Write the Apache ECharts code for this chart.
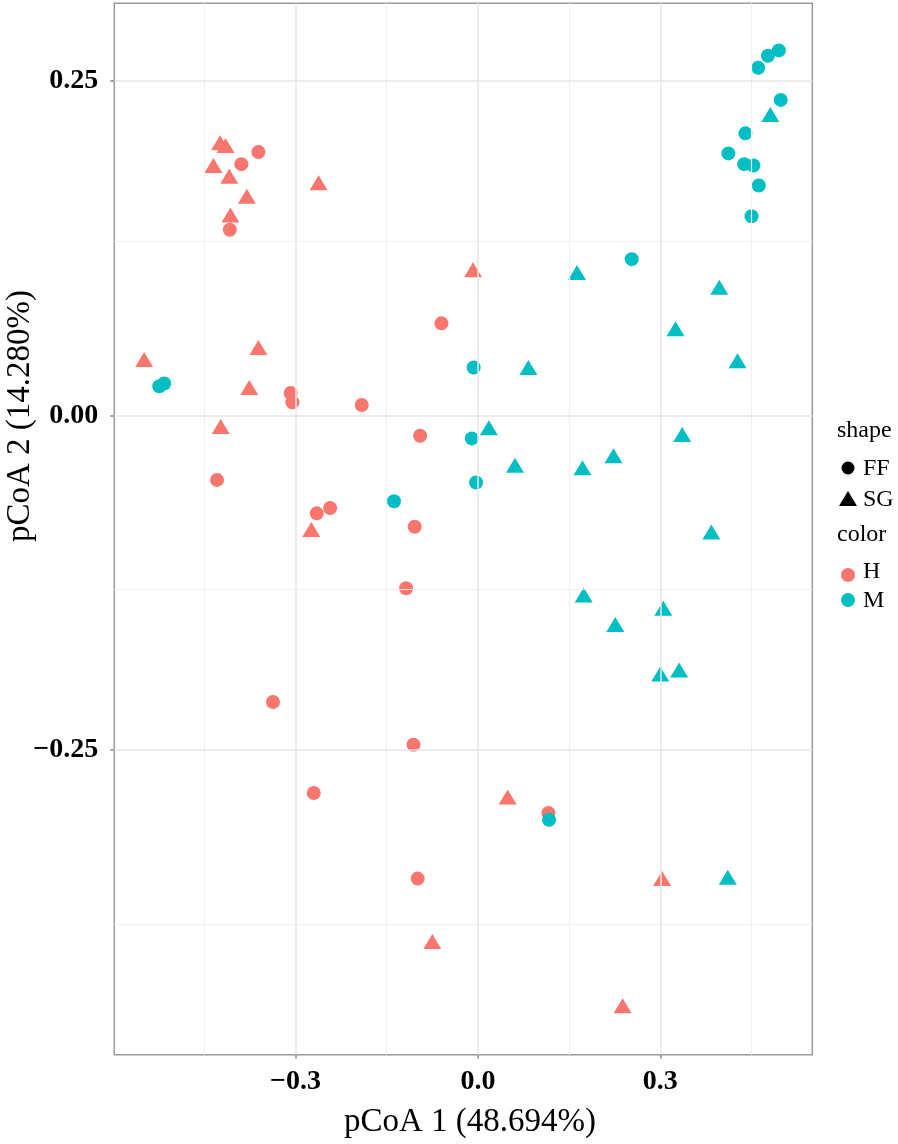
<!DOCTYPE html>
<html>
<head>
<meta charset="utf-8">
<script src="https://cdn.jsdelivr.net/npm/echarts@6/dist/echarts.min.js"></script>
<style>
html,body{margin:0;padding:0;background:#fff;}
#chart{width:898px;height:1144px;}
</style>
</head>
<body>
<div id="chart"></div>
<script>
// ---- data (pCoA 1, pCoA 2) ----
const H_FF = [
  [-0.361, 0.197], [-0.389, 0.188], [-0.408, 0.139], [-0.060, 0.069],
  [-0.308, 0.017], [-0.305, 0.010], [-0.191, 0.008], [-0.095, -0.015],
  [-0.429, -0.048], [-0.265, -0.073], [-0.243, -0.069], [-0.104, -0.083],
  [-0.118, -0.129], [-0.337, -0.214], [-0.106, -0.246], [-0.270, -0.282],
  [-0.099, -0.346], [0.116, -0.297]
];
const H_SG = [
  [-0.424, 0.204], [-0.415, 0.202], [-0.435, 0.187], [-0.409, 0.179],
  [-0.380, 0.164], [-0.407, 0.150], [-0.262, 0.174], [-0.549, 0.042],
  [-0.361, 0.051], [-0.376, 0.021], [-0.008, 0.109], [-0.423, -0.008],
  [-0.274, -0.085], [-0.075, -0.393], [0.049, -0.285], [0.303, -0.346],
  [0.238, -0.441]
];
const M_FF = [
  [-0.524, 0.022], [-0.516, 0.024], [0.461, 0.260], [0.477, 0.269],
  [0.495, 0.273], [0.498, 0.236], [0.440, 0.211], [0.412, 0.196],
  [0.438, 0.188], [0.453, 0.187], [0.462, 0.172], [0.450, 0.149],
  [0.253, 0.117], [-0.007, 0.036], [-0.010, -0.017], [-0.003, -0.050],
  [-0.138, -0.064], [0.117, -0.302]
];
const M_SG = [
  [0.481, 0.225], [0.163, 0.107], [0.397, 0.096], [0.325, 0.065],
  [0.427, 0.041], [0.083, 0.036], [0.018, -0.009], [0.061, -0.037],
  [0.172, -0.039], [0.223, -0.030], [0.336, -0.014], [0.384, -0.087],
  [0.174, -0.134], [0.305, -0.144], [0.226, -0.156], [0.300, -0.193],
  [0.331, -0.190], [0.411, -0.345]
];
const xMajorTicks = [-0.3, 0, 0.3];
const xMinorGrid = [-0.45, -0.15, 0.15, 0.45];
const yMajorTicks = [-0.25, 0, 0.25];
const yMinorGrid = [-0.375, -0.125, 0.125];
const xTitle = 'pCoA 1 (48.694%)';
const yTitle = 'pCoA 2 (14.280%)';
const shapeLegend = ['FF', 'SG'];
const colorLegend = ['H', 'M'];

const RED = '#F8766D', TEAL = '#00BFC4';
const SERIF = '"Liberation Serif", "Times New Roman", serif';

function fmt(v, d) { return (v < 0 ? '\u2212' : '') + Math.abs(v).toFixed(d); }

const chart = echarts.init(document.getElementById('chart'), null, {renderer: 'canvas'});

const gridLines = [].concat(
  xMinorGrid.map(v => ({xAxis: v, lineStyle: {color: '#f0f0f0', width: 1.2, type: 'solid'}})),
  yMinorGrid.map(v => ({yAxis: v, lineStyle: {color: '#f0f0f0', width: 1.2, type: 'solid'}})),
  xMajorTicks.map(v => ({xAxis: v, lineStyle: {color: '#e6e6e6', width: 1.5, type: 'solid'}})),
  yMajorTicks.map(v => ({yAxis: v, lineStyle: {color: '#e6e6e6', width: 1.5, type: 'solid'}}))
);

function pts(data, shape, color) {
  return {
    type: 'scatter',
    data: data,
    symbol: shape,
    symbolSize: shape === 'circle' ? 14 : [18, 15],
    itemStyle: {color: color, opacity: 1},
    z: 3,
    silent: true
  };
}

const legendGraphics = [
  {type: 'text', x: 837, y: 431, style: {text: 'shape', font: '24px ' + SERIF, fill: '#000', textVerticalAlign: 'middle'}},
  {type: 'circle', shape: {cx: 848, cy: 468, r: 6.5}, style: {fill: '#000'}},
  {type: 'text', x: 863, y: 469, style: {text: shapeLegend[0], font: '24px ' + SERIF, fill: '#000', textVerticalAlign: 'middle'}},
  {type: 'polygon', shape: {points: [[848, 491], [857, 506], [839, 506]]}, style: {fill: '#000'}},
  {type: 'text', x: 863, y: 500, style: {text: shapeLegend[1], font: '24px ' + SERIF, fill: '#000', textVerticalAlign: 'middle'}},
  {type: 'text', x: 837, y: 535, style: {text: 'color', font: '24px ' + SERIF, fill: '#000', textVerticalAlign: 'middle'}},
  {type: 'circle', shape: {cx: 848, cy: 575, r: 7}, style: {fill: RED}},
  {type: 'text', x: 863, y: 572, style: {text: colorLegend[0], font: '24px ' + SERIF, fill: '#000', textVerticalAlign: 'middle'}},
  {type: 'circle', shape: {cx: 848, cy: 600, r: 7}, style: {fill: TEAL}},
  {type: 'text', x: 863, y: 601, style: {text: colorLegend[1], font: '24px ' + SERIF, fill: '#000', textVerticalAlign: 'middle'}},
  {type: 'text', x: 470, y: 1122, style: {text: xTitle, font: '33px ' + SERIF, fill: '#000', textAlign: 'center', textVerticalAlign: 'middle'}},
  {type: 'text', x: 20, y: 416, rotation: Math.PI / 2, style: {text: yTitle, font: '33px ' + SERIF, fill: '#000', textAlign: 'center', textVerticalAlign: 'middle'}}
];

chart.setOption({
  animation: false,
  backgroundColor: '#ffffff',
  grid: {
    left: 114.3, top: 3.3, width: 698, height: 1051.4,
    show: true, borderColor: '#9a9a9a', borderWidth: 1.5, backgroundColor: '#ffffff',
    containLabel: false
  },
  xAxis: {
    type: 'value', min: -0.598, max: 0.55,
    axisLine: {show: false, onZero: false},
    splitLine: {show: false},
    axisTick: {show: true, length: 4, lineStyle: {color: '#888', width: 1.5}, customValues: xMajorTicks},
    axisLabel: {
      customValues: xMajorTicks, margin: 13,
      formatter: v => fmt(v, 1),
      fontFamily: SERIF, fontWeight: 'bold', fontSize: 28, color: '#000'
    }
  },
  yAxis: {
    type: 'value', min: -0.4776, max: 0.3082,
    axisLine: {show: false, onZero: false},
    splitLine: {show: false},
    axisTick: {show: true, length: 4, lineStyle: {color: '#888', width: 1.5}, customValues: yMajorTicks},
    axisLabel: {
      customValues: yMajorTicks, margin: 16,
      formatter: v => fmt(v, 2),
      fontFamily: SERIF, fontWeight: 'bold', fontSize: 28, color: '#000'
    }
  },
  series: [
    {
      type: 'scatter', data: [], z: 1, silent: true,
      markLine: {silent: true, symbol: ['none', 'none'], label: {show: false}, animation: false, data: gridLines}
    },
    pts(H_FF, 'circle', RED),
    pts(H_SG, 'triangle', RED),
    pts(M_FF, 'circle', TEAL),
    pts(M_SG, 'triangle', TEAL)
  ],
  graphic: legendGraphics
});
</script>
</body>
</html>
